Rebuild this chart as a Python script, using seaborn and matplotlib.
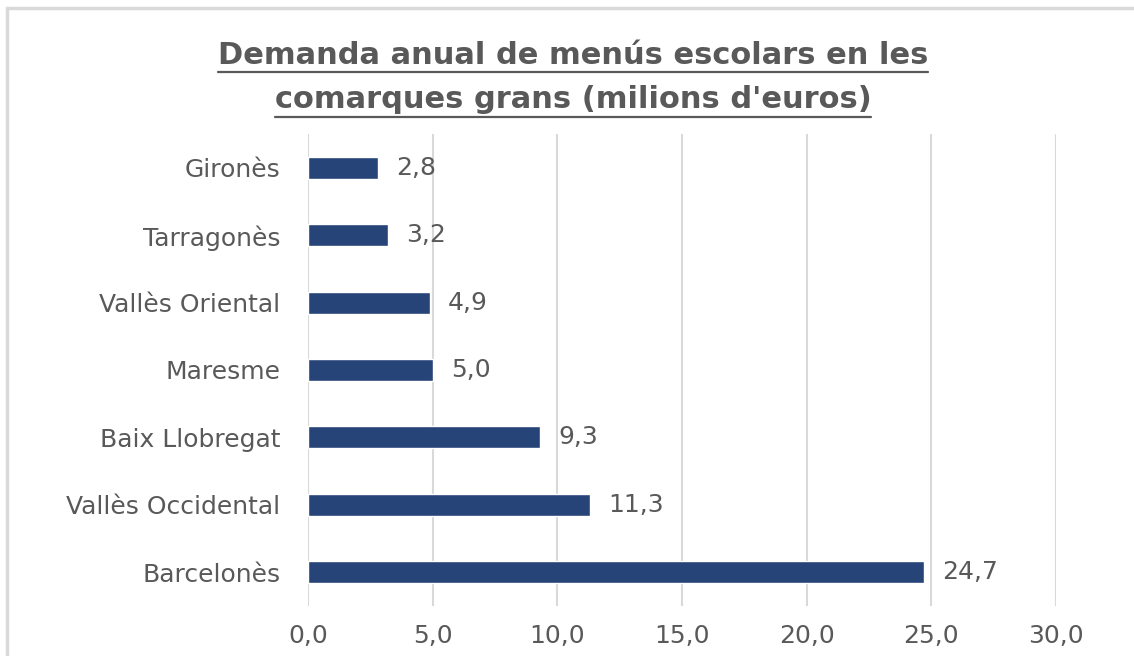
import matplotlib
matplotlib.use("Agg")
import matplotlib.pyplot as plt
import seaborn as sns
import pandas as pd
from matplotlib.lines import Line2D
from matplotlib.patches import Rectangle
from matplotlib.ticker import FuncFormatter, FixedLocator

categories = ["Gironès", "Tarragonès", "Vallès Oriental", "Maresme",
              "Baix Llobregat", "Vallès Occidental", "Barcelonès"]
values = [2.8, 3.2, 4.9, 5.0, 9.3, 11.3, 24.7]
xticks = [0, 5, 10, 15, 20, 25, 30]
title_lines = ["Demanda anual de menús escolars en les",
               "comarques grans (milions d'euros)"]

sns.set_theme(style="white")
plt.rcParams['font.family'] = ['DejaVu Sans']

TXT = "#595959"
BAR = "#264478"
GRID = "#d9d9d9"
FS = 18

fig = plt.figure(figsize=(11.34, 6.56), dpi=100)
ax = fig.add_axes([0.2716, 0.0767, 0.6596, 0.7186])

df = pd.DataFrame({"comarca": categories, "valor": values})
sns.barplot(data=df, x="valor", y="comarca", color=BAR, width=0.33,
            saturation=1, ax=ax)

ax.set_xlim(0, 30)
ax.set_ylim(len(categories) - 0.5, -0.5)
ax.xaxis.set_major_locator(FixedLocator(xticks))
ax.xaxis.set_major_formatter(FuncFormatter(lambda v, p: f"{v:.1f}".replace(".", ",")))
ax.grid(axis="x", color=GRID, lw=1.5)
ax.grid(axis="y", visible=False)
ax.set_axisbelow(True)
for s in ax.spines.values():
    s.set_visible(False)
ax.set_xlabel("")
ax.set_ylabel("")
ax.tick_params(axis="x", length=0, pad=13, labelsize=FS, labelcolor=TXT)
ax.tick_params(axis="y", length=0, pad=20, labelsize=FS, labelcolor=TXT)

for c in ax.containers:
    ax.bar_label(c, labels=[f"{v:.1f}".replace(".", ",") for v in values],
                 padding=13, fontsize=FS, color=TXT)

# frame (top & left visible)
fig.patches.append(Rectangle((7 / 1134, -0.1), 1.2, 1 - 8 / 656 + 0.1,
                             transform=fig.transFigure, fill=False,
                             edgecolor=GRID, lw=2.5))

t1 = fig.text(0.5053, 1 - 56 / 656, title_lines[0], ha="center", va="center",
              fontsize=22, fontweight="bold", color=TXT)
t2 = fig.text(0.5053, 1 - 100 / 656, title_lines[1], ha="center", va="center",
              fontsize=22, fontweight="bold", color=TXT)

fig.canvas.draw()
r = fig.canvas.get_renderer()
inv = fig.transFigure.inverted()
for t, yu in ((t1, 72), (t2, 117)):
    bb = t.get_window_extent(r).transformed(inv)
    y = 1 - yu / 656
    fig.lines.append(Line2D([bb.x0, bb.x1], [y, y], transform=fig.transFigure,
                            color=TXT, lw=1.6))

fig.savefig("out.png", dpi=100)
